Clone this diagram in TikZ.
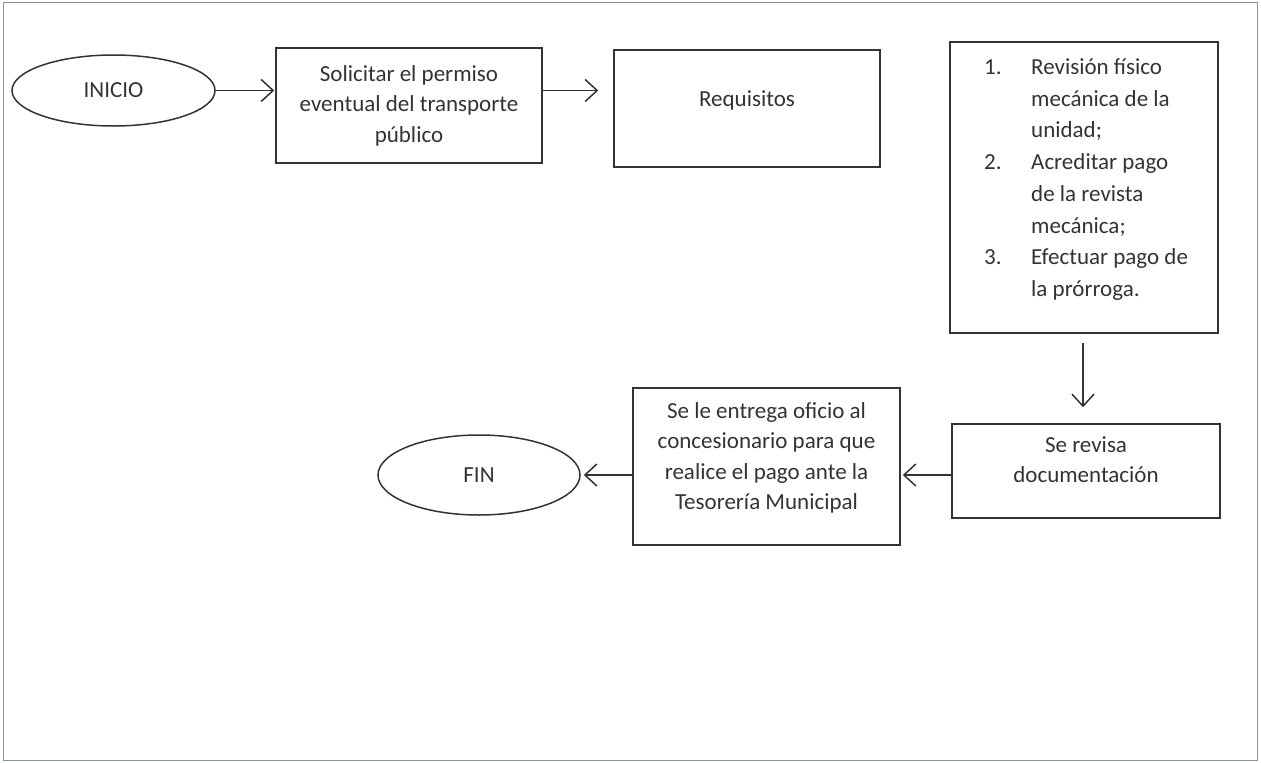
\documentclass[tikz,border=0pt]{standalone}
\usepackage{fontspec}
\setmainfont{Carlito}
\usetikzlibrary{arrows.meta,shapes.geometric}
\definecolor{ink}{HTML}{333333}
\definecolor{frame}{HTML}{8A9496}
\begin{document}
\begin{tikzpicture}[x=1pt,y=-1pt,
  every node/.style={text=ink,font=\fontsize{23}{30.5}\selectfont},
  stepbox/.style={draw=ink,line width=1.5pt,rectangle,align=center,inner sep=0pt},
  term/.style={draw=ink,line width=1.5pt,ellipse,inner sep=0pt},
  conn/.style={draw=ink,line width=1.5pt,-{Straight Barb[length=12pt,width=22pt,line width=1.5pt]}}
]
\useasboundingbox (0,0) rectangle (1261,763);
\draw[frame,line width=1pt] (3,2) rectangle (1257,760);
\node[term,minimum width=203,minimum height=71] (inicio) at (113.5,90.5) {INICIO};
\node[stepbox,minimum width=266,minimum height=115] (solicitar) at (409,105.5) {Solicitar el permiso\\eventual del transporte\\público};
\node[stepbox,minimum width=266,minimum height=117] (req) at (747,108.5) {Requisitos\\[-10pt]\mbox{}};
\node[stepbox,minimum width=268,minimum height=291] (lista) at (1084,187.5) {};
\node[anchor=north west,align=left,inner sep=0pt] (items) at (984,53) {%
  \begin{tabular}{@{}p{47pt}@{}l@{}}
  1. & Revisión físico\\[1.2pt]
     & mecánica de la\\[1.2pt]
     & unidad;\\[1.2pt]
  2. & Acreditar pago\\[1.2pt]
     & de la revista\\[1.2pt]
     & mecánica;\\[1.2pt]
  3. & Efectuar pago de\\[1.2pt]
     & la prórroga.
  \end{tabular}};
\node[stepbox,minimum width=268,minimum height=94] (revisa) at (1086,471) {Se revisa\\documentación\\[-8pt]\mbox{}};
\node[stepbox,minimum width=267,minimum height=157] (entrega) at (766.5,466.5) {Se le entrega oficio al\\concesionario para que\\realice el pago ante la\\Tesorería Municipal\\[-10pt]\mbox{}};
\node[term,minimum width=202,minimum height=80] (fin) at (479,475) {FIN};
\draw[conn,shorten >=1pt] (inicio.east) -- (inicio.east -| solicitar.west);
\draw[conn,shorten >=15pt] (solicitar.east |- inicio.east) -- (req.west |- inicio.east);
\draw[conn,shorten <=9pt,shorten >=16pt] (lista.south -| 1083,0) -- (revisa.north -| 1083,0);
\draw[conn,shorten >=2pt] (revisa.west |- 0,475) -- (entrega.east |- 0,475);
\draw[conn,shorten >=3pt] (entrega.west |- fin.east) -- (fin.east);
\end{tikzpicture}
\end{document}
